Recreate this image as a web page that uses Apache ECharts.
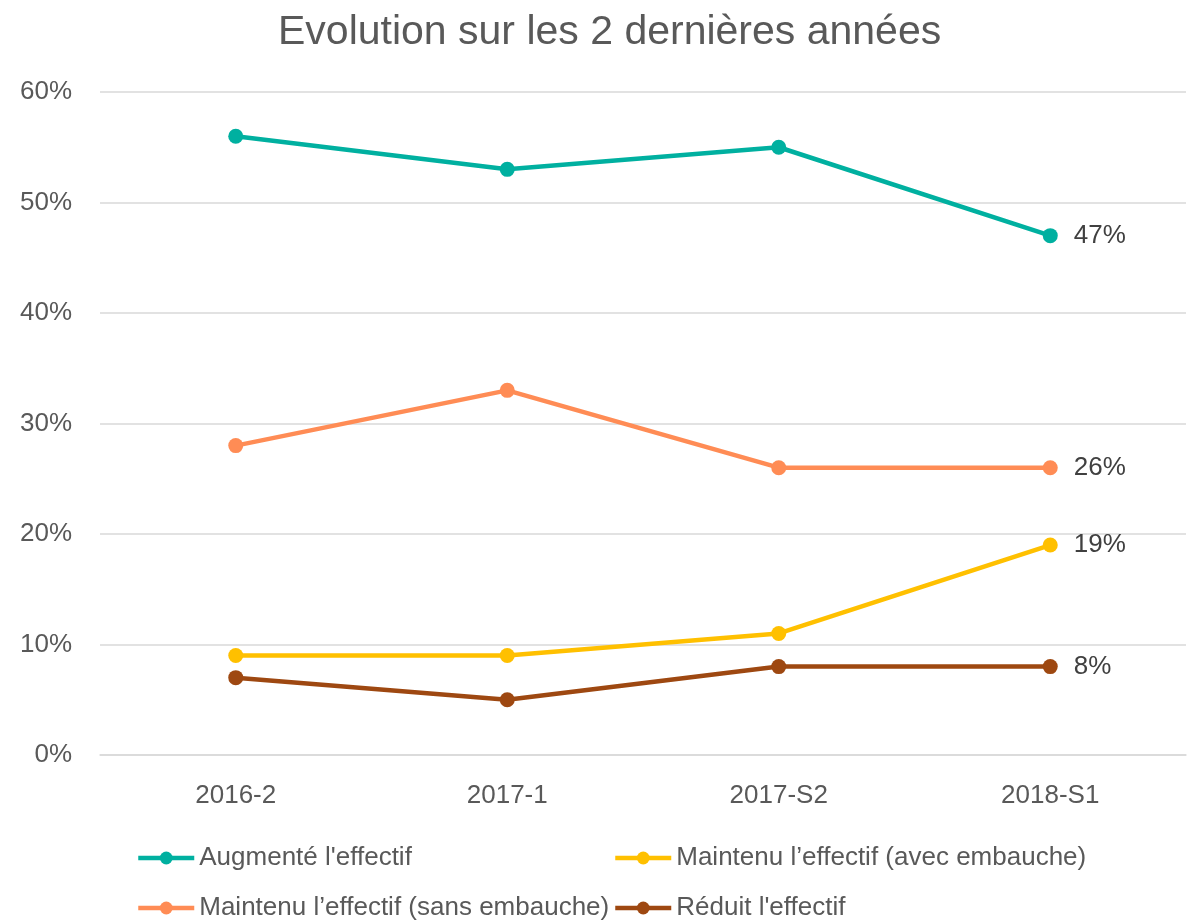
<!DOCTYPE html>
<html>
<head>
<meta charset="utf-8">
<title>Evolution</title>
<script src="https://cdn.jsdelivr.net/npm/echarts@6/dist/echarts.min.js"></script>
<style>
  html, body { margin: 0; padding: 0; background: #fff; }
  #chart { width: 1187px; height: 923px; }
</style>
</head>
<body>
<div id="chart"></div>
<script>
// données
const periodes = ['2016-2', '2017-1', '2017-S2', '2018-S1']
const augmente = [56, 53, 55, 47]
const maintenuSans = [28, 33, 26, 26]
const maintenuAvec = [9, 9, 11, 19]
const reduit = [7, 5, 8, 8]

const FONT = '"Liberation Sans Narrow", "Arial Narrow", "Liberation Sans", sans-serif'

const myChart = echarts.init(document.getElementById('chart'))

function serie (name, data, color) {
  return {
    name: name,
    type: 'line',
    data: data,
    symbol: 'circle',
    symbolSize: 15,
    lineStyle: { width: 4.5, color: color },
    itemStyle: { color: color },
    label: {
      show: true,
      position: 'right',
      distance: 16,
      fontFamily: FONT,
      fontSize: 26,
      color: '#404040',
      formatter: function (p) {
        return p.dataIndex === data.length - 1 ? p.value + '%' : ''
      }
    }
  }
}

// une légende par entrée pour garder les deux colonnes alignées
function legende (name, left, top) {
  return {
    left: left,
    top: top,
    data: [name],
    itemWidth: 56,
    itemHeight: 16,
    lineStyle: { width: 4.5 },
    textStyle: { fontFamily: FONT, fontSize: 26, color: '#595959' }
  }
}

const option = {
  animation: false,
  title: {
    text: 'Evolution sur les 2 dernières années',
    left: 273,
    top: 7,
    textStyle: { fontFamily: FONT, fontSize: 41, fontWeight: 'normal', color: '#595959' }
  },
  legend: [
    legende("Augmenté l'effectif", 131, 840),
    legende('Maintenu l’effectif (sans embauche)', 131, 890),
    legende('Maintenu l’effectif (avec embauche)', 608, 840),
    legende("Réduit l'effectif", 608, 890)
  ],
  grid: {
    left: 100,
    right: 1,
    top: 92,
    bottom: 168,
    containLabel: false
  },
  xAxis: {
    type: 'category',
    data: periodes,
    boundaryGap: true,
    axisLine: { show: true, lineStyle: { color: '#d9d9d9', width: 1.5 } },
    axisTick: { show: false },
    axisLabel: { fontFamily: FONT, fontSize: 26, color: '#595959', margin: 28 }
  },
  yAxis: {
    type: 'value',
    min: 0,
    max: 60,
    interval: 10,
    axisLine: { show: false },
    axisTick: { show: false },
    splitLine: { lineStyle: { color: '#d9d9d9', width: 1.5 } },
    axisLabel: {
      fontFamily: FONT,
      fontSize: 26,
      color: '#595959',
      margin: 28,
      formatter: '{value}%'
    }
  },
  series: [
    serie("Augmenté l'effectif", augmente, '#00B0A0'),
    serie('Maintenu l’effectif (sans embauche)', maintenuSans, '#FF8C55'),
    serie('Maintenu l’effectif (avec embauche)', maintenuAvec, '#FFC000'),
    serie("Réduit l'effectif", reduit, '#9E4811')
  ]
}

myChart.setOption(option)
</script>
</body>
</html>
